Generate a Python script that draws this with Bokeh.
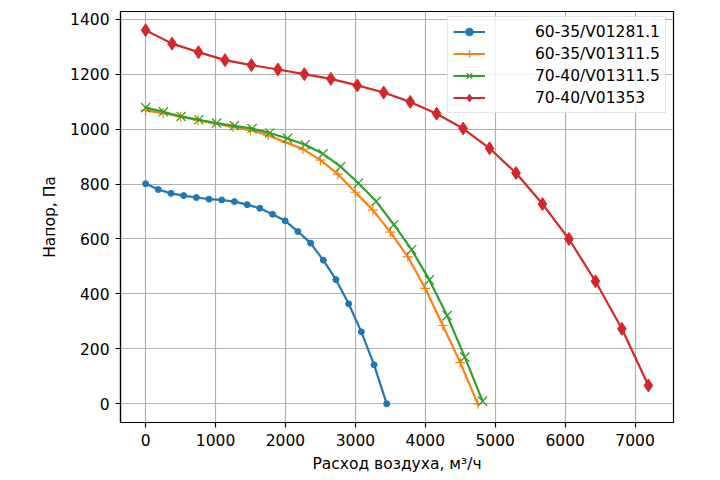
from bokeh.plotting import figure
from bokeh.models import Range1d, FixedTicker, Legend, LegendItem
from bokeh.embed import file_html
from bokeh.resources import INLINE

# --- data ---
blue_x = [0, 181, 363, 544, 726, 907, 1089, 1270, 1452, 1633, 1815, 1996, 2178, 2359, 2541, 2722, 2904, 3085, 3267, 3448]
blue_y = [801, 780, 766, 758, 751, 745, 742, 736, 725, 712, 690, 666, 627, 585, 523, 452, 364, 262, 142, 0]

orange_x = [0, 250, 500, 750, 1000, 1250, 1500, 1750, 2000, 2250, 2500, 2750, 3000, 3250, 3500, 3750, 4000, 4250, 4500, 4750]
orange_y = [1068, 1058, 1045, 1032, 1020, 1008, 996, 978, 952, 927, 887, 836, 770, 705, 625, 535, 420, 285, 150, 0]

green_x = [0, 254, 507, 761, 1014, 1268, 1522, 1775, 2029, 2283, 2536, 2790, 3044, 3297, 3551, 3804, 4058, 4312, 4565, 4819]
green_y = [1078, 1063, 1046, 1034, 1022, 1012, 1002, 986, 966, 943, 910, 863, 803, 737, 652, 561, 451, 321, 170, 10]

red_x = [0, 378, 756, 1135, 1513, 1892, 2270, 2649, 3027, 3405, 3784, 4162, 4541, 4919, 5297, 5676, 6054, 6433, 6811, 7190]
red_y = [1360, 1311, 1280, 1251, 1233, 1217, 1200, 1183, 1159, 1133, 1099, 1056, 1002, 930, 840, 727, 600, 446, 273, 67]

labels = ["60-35/V01281.1", "60-35/V01311.5", "70-40/V01311.5", "70-40/V01353"]
x_ticks = [0, 1000, 2000, 3000, 4000, 5000, 6000, 7000]
y_ticks = [0, 200, 400, 600, 800, 1000, 1200, 1400]
x_label = "Расход воздуха, м³/ч"
y_label = "Напор, Па"

FONT = "DejaVu Sans"

p = figure(width=720, height=480, output_backend="svg", toolbar_location=None,
           x_range=Range1d(-359.5, 7549.5), y_range=Range1d(-68, 1428),
           min_border_left=120, min_border_right=47, min_border_top=11, min_border_bottom=58)

p.outline_line_color = "black"
p.outline_line_width = 1.2
p.background_fill_color = "white"
p.border_fill_color = "white"

for ax in (p.xaxis[0], p.yaxis[0]):
    ax.axis_line_color = "black"
    ax.axis_line_width = 1.2
    ax.major_tick_line_color = "black"
    ax.major_tick_line_width = 1.2
    ax.major_tick_out = 5
    ax.major_tick_in = 0
    ax.minor_tick_line_color = None
    ax.major_label_text_font = FONT
    ax.major_label_text_font_size = "15.5px"
    ax.major_label_text_color = "black"
    ax.axis_label_text_font = FONT
    ax.axis_label_text_font_size = "15.5px"
    ax.axis_label_text_font_style = "normal"
    ax.axis_label_text_color = "black"
    ax.major_label_standoff = 6

p.xaxis.ticker = FixedTicker(ticks=x_ticks)
p.yaxis.ticker = FixedTicker(ticks=y_ticks)
p.xaxis.axis_label = x_label
p.yaxis.axis_label = y_label
p.xaxis.axis_label_standoff = 6
p.yaxis.axis_label_standoff = 8

p.grid.grid_line_color = "#b0b0b0"
p.grid.grid_line_width = 1.2

LW = 2.2
items = []

l1 = p.line(blue_x, blue_y, line_color="#1f77b4", line_width=LW)
m1 = p.scatter(blue_x, blue_y, marker="circle", size=6, fill_color="#1f77b4", line_color="#1f77b4")
items.append(LegendItem(label=labels[0], renderers=[l1, m1]))

l2 = p.line(orange_x, orange_y, line_color="#ff7f0e", line_width=LW)
m2 = p.scatter(orange_x, orange_y, marker="cross", size=10, line_color="#ff7f0e", line_width=1.2)
items.append(LegendItem(label=labels[1], renderers=[l2, m2]))

l3 = p.line(green_x, green_y, line_color="#2ca02c", line_width=LW)
m3 = p.scatter(green_x, green_y, marker="x", size=13, line_color="#2ca02c", line_width=1.3)
items.append(LegendItem(label=labels[2], renderers=[l3, m3]))

l4 = p.line(red_x, red_y, line_color="#d62728", line_width=LW)
m4 = p.scatter(red_x, red_y, marker="diamond", size=13, fill_color="#d62728", line_color="#d62728", line_width=1)
items.append(LegendItem(label=labels[3], renderers=[l4, m4]))

legend = Legend(items=items, location=(327, 309))
legend.label_text_font = FONT
legend.label_text_font_size = "15.5px"
legend.label_text_color = "black"
legend.glyph_width = 32
legend.glyph_height = 19
legend.label_height = 19
legend.label_standoff = 50
legend.spacing = 3
legend.padding = 5
legend.margin = 0
legend.border_line_color = "#cccccc"
legend.border_line_width = 1
legend.background_fill_color = "white"
legend.background_fill_alpha = 0.8
p.add_layout(legend, "center")

open("out.html", "w").write(file_html(p, INLINE))
